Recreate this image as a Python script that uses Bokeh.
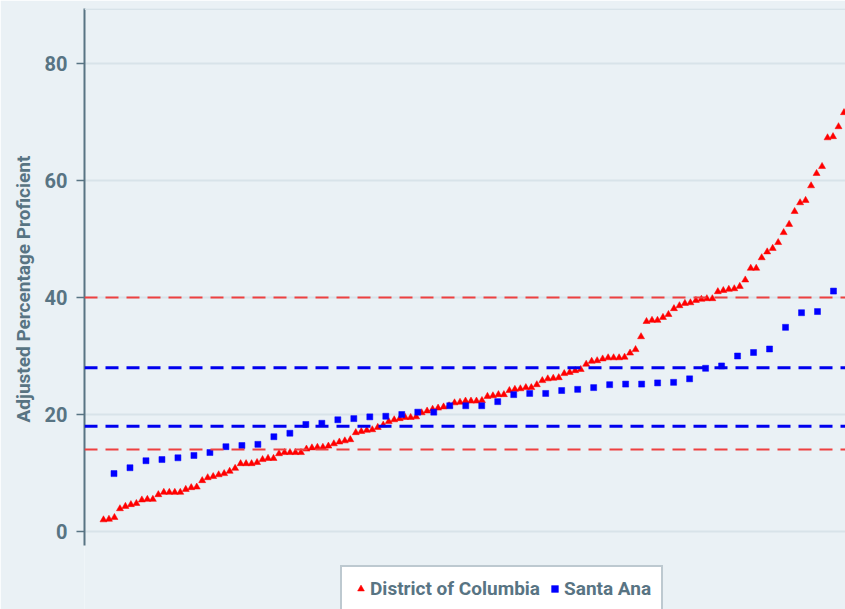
from bokeh.plotting import figure
from bokeh.models import Span, Legend, LegendItem, FixedTicker, Range1d, Title
from bokeh.embed import file_html
from bokeh.resources import INLINE

# ---- data ----
dc_values = [2.0, 2.1, 2.4,
             3.9, 4.3, 4.6, 4.8,
             5.4, 5.5, 5.5,
             6.3,
             6.7, 6.7, 6.7, 6.7,
             7.2, 7.5, 7.6,
             8.7,
             9.2, 9.4,
             9.7, 9.9, 10.3,
             10.8,
             11.6, 11.6, 11.6, 11.8,
             12.3, 12.5, 12.5,
             13.3, 13.5, 13.5, 13.5, 13.5,
             14.1, 14.3, 14.4, 14.4, 14.6,
             15.0, 15.3, 15.5, 15.7,
             16.9, 17.1, 17.3, 17.4, 17.8, 18.2,
             18.8, 19.1, 19.3, 19.5, 19.5, 19.6,
             20.3, 20.6, 20.9, 21.1, 21.3, 21.5,
             22.0, 22.1, 22.3, 22.3, 22.3, 22.4,
             23.1, 23.2, 23.4, 23.4,
             24.1, 24.3, 24.4, 24.6, 24.6,
             25.1, 25.8, 26.1, 26.2, 26.3,
             27.0, 27.2, 27.5, 27.7,
             28.6, 29.1, 29.2, 29.5, 29.7, 29.7, 29.7, 29.8, 30.5, 31.1,
             33.3,
             35.9, 36.1, 36.1,
             36.6, 37.1,
             38.1, 38.6, 39.0, 39.1, 39.5, 39.7, 39.8, 39.8,
             41.0, 41.2, 41.4, 41.5, 41.9,
             43.0,
             45.0, 45.0,
             46.8,
             47.8, 48.4,
             49.4,
             51.1,
             52.5,
             54.7,
             56.2, 56.6,
             59.1,
             61.2,
             62.4,
             67.3, 67.5,
             69.2,
             71.6]

sa_values = [9.9, 10.9, 12.1, 12.3, 12.6, 13.0, 13.5, 14.5, 14.7, 14.9,
             16.2, 16.8, 18.3, 18.5, 19.1, 19.3, 19.6, 19.7, 20.0, 20.4,
             20.4, 21.5, 21.5, 21.5, 22.2, 23.4, 23.6, 23.6, 24.1, 24.3,
             24.6, 25.1, 25.2, 25.2, 25.4, 25.5, 26.1, 27.9, 28.3, 30.0,
             30.6, 31.2, 34.9, 37.4, 37.6, 41.1]

dc_benchmarks = [14, 40]
sa_benchmarks = [18, 28]
y_ticks = [0, 20, 40, 60, 80]
y_title = "Adjusted Percentage Proficient"
series_names = ["District of Columbia", "Santa Ana"]

# percentile rank positions
dc_x = [(i + 1) / (len(dc_values) + 1) * 100 for i in range(len(dc_values))]
sa_x = [(i + 1) / (len(sa_values) + 1) * 100 for i in range(len(sa_values))]

# ---- styling ----
BG = "#eaf1f5"
GRID = "#d8e3e9"
SLATE = "#587483"
FONT = "Roboto"

p = figure(width=845, height=609, output_backend="svg", toolbar_location=None,
           x_range=Range1d(-1.796, 99.47), y_range=Range1d(-13.33, 89.4),
           min_border_left=84, min_border_right=0, min_border_top=8,
           min_border_bottom=0,
           background_fill_color=BG, border_fill_color=BG,
           outline_line_color=None)

p.xaxis.visible = False
p.xgrid.visible = False
p.ygrid.grid_line_color = GRID
p.ygrid.grid_line_width = 2

ax = p.yaxis[0]
ax.ticker = FixedTicker(ticks=y_ticks)
ax.bounds = (-2.39, 89.4)
ax.minor_tick_line_color = None
ax.major_tick_in = 0
ax.major_tick_out = 8
ax.major_tick_line_color = SLATE
ax.major_tick_line_width = 1.5
ax.axis_line_color = SLATE
ax.axis_line_width = 2
ax.major_label_text_font = FONT
ax.major_label_text_font_style = "bold"
ax.major_label_text_font_size = "20px"
ax.major_label_text_color = SLATE
ax.major_label_standoff = 9

# y-axis title as a side title, starting at the bottom with an offset
ytitle = Title(text=y_title, align="left", offset=187, standoff=14,
               text_font=FONT, text_font_style="bold", text_font_size="19px",
               text_color=SLATE)
p.add_layout(ytitle, "left")

# top border line
p.add_layout(Span(location=89.3, dimension="width", line_color=GRID, line_width=2))

# benchmark lines
for b in dc_benchmarks:
    p.add_layout(Span(location=b, dimension="width", line_color="#ee4040",
                      line_width=2, line_dash="13 8"))
for b in sa_benchmarks:
    p.add_layout(Span(location=b, dimension="width", line_color="#0000ee",
                      line_width=3, line_dash="13 8"))

r_dc = p.scatter(dc_x, dc_values, marker="triangle", size=7,
                 fill_color="#ff0000", line_color="#ff0000", line_width=0.5)
r_sa = p.scatter(sa_x, sa_values, marker="square", size=6,
                 fill_color="#0000ff", line_color="#0000ff", line_width=0.5)

legend = Legend(items=[LegendItem(label=series_names[0], renderers=[r_dc]),
                       LegendItem(label=series_names[1], renderers=[r_sa])],
                orientation="horizontal", location=(256, -3),
                padding=10, spacing=6, label_standoff=1,
                glyph_width=17, glyph_height=17,
                label_text_font=FONT, label_text_font_style="bold",
                label_text_font_size="19px", label_text_color=SLATE,
                background_fill_color="white", background_fill_alpha=1,
                border_line_color="#7b93a1", border_line_width=2)
p.add_layout(legend)

open("out.html", "w").write(file_html(p, INLINE))
